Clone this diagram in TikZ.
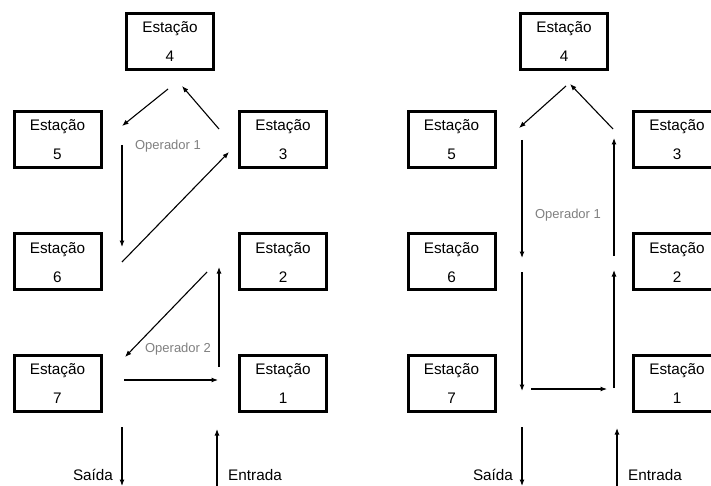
\documentclass[tikz,border=0pt]{standalone}
\usepackage{fontspec}
\setmainfont{Liberation Sans}
\usetikzlibrary{arrows.meta,calc}

\tikzset{
  stbox/.style={draw=black, line width=3pt, minimum width=87pt, minimum height=56pt, inner sep=0pt, fill=white},
  sttext/.style={anchor=base, inner sep=0pt, font=\fontsize{15.3}{18}\selectfont},
  flow/.style={line width=1.1pt, -{Latex[length=6.5pt,width=5pt]}},
  oplabel/.style={text=black!50, inner sep=0pt, font=\fontsize{13}{15}\selectfont},
  iolabel/.style={inner sep=0pt, font=\fontsize{15.3}{18}\selectfont},
}

% one station box: name, centre, number
\newcommand{\station}[3]{%
  \node[stbox] (#1) at (#2) {};
  \node[sttext] at ($(#1.north)+(0,21)$) {Estação};
  \node[sttext] at ($(#1.north)+(0,50)$) {#3};
}

\begin{document}
\begin{tikzpicture}[x=1pt, y=-1pt]
\useasboundingbox (0,0) rectangle (711,486);
\fill[white] (0,0) rectangle (711,486);
\clip (0,0) rectangle (711,486);

% ---------- left layout ----------
\station{Ls4}{170,41.5}{4}
\station{Ls5}{57.5,139.5}{5}
\station{Ls3}{283,139.5}{3}
\station{Ls6}{57.5,261.5}{6}
\station{Ls2}{283,261.5}{2}
\station{Ls7}{57.5,383}{7}
\station{Ls1}{283,383}{1}

\coordinate (La1s) at (168,89);   \coordinate (La1e) at (122,126);
\coordinate (La2s) at (219,129);  \coordinate (La2e) at (182,86);
\coordinate (La3s) at (122,145);  \coordinate (La3e) at (122,247);
\coordinate (La4s) at (122,262);  \coordinate (La4e) at (229,152);
\coordinate (La5s) at (207,272);  \coordinate (La5e) at (125,357);
\coordinate (La6s) at (219,367);  \coordinate (La6e) at (219,267);
\coordinate (La7s) at (124,380);  \coordinate (La7e) at (218,380);
\coordinate (La8s) at (122,427);  \coordinate (La8e) at (122,486);
\coordinate (La9s) at (217,487);  \coordinate (La9e) at (217,429);

\draw[flow] (La1s) -- (La1e);
\draw[flow] (La2s) -- (La2e);
\draw[flow] (La3s) -- (La3e);
\draw[flow] (La4s) -- (La4e);
\draw[flow] (La5s) -- (La5e);
\draw[flow] (La6s) -- (La6e);
\draw[flow] (La7s) -- (La7e);
\draw[flow] (La8s) -- (La8e);
\draw[flow] (La9s) -- (La9e);

\node[oplabel] (Lop1) at (168,146) {Operador 1};
\node[oplabel] (Lop2) at (178,349) {Operador 2};
\node[iolabel] (Lout) at (93,475) {Saída};
\node[iolabel] (Lin) at (255,475) {Entrada};

% ---------- right layout ----------
\station{Rs4}{564,41.5}{4}
\station{Rs5}{451.5,139.5}{5}
\station{Rs3}{677,139.5}{3}
\station{Rs6}{451.5,261.5}{6}
\station{Rs2}{677,261.5}{2}
\station{Rs7}{451.5,383}{7}
\station{Rs1}{677,383}{1}

\coordinate (Rb1s) at (566,86);   \coordinate (Rb1e) at (519,128);
\coordinate (Rb2s) at (613,129);  \coordinate (Rb2e) at (570,84);
\coordinate (Rb3s) at (522,140);  \coordinate (Rb3e) at (522,258);
\coordinate (Rb4s) at (614,256);  \coordinate (Rb4e) at (614,138);
\coordinate (Rb5s) at (522,272);  \coordinate (Rb5e) at (522,391);
\coordinate (Rb6s) at (531,389);  \coordinate (Rb6e) at (607,389);
\coordinate (Rb7s) at (614,388);  \coordinate (Rb7e) at (614,270);
\coordinate (Rb8s) at (522,427);  \coordinate (Rb8e) at (522,486);
\coordinate (Rb9s) at (617,487);  \coordinate (Rb9e) at (617,428);

\draw[flow] (Rb1s) -- (Rb1e);
\draw[flow] (Rb2s) -- (Rb2e);
\draw[flow] (Rb3s) -- (Rb3e);
\draw[flow] (Rb4s) -- (Rb4e);
\draw[flow] (Rb5s) -- (Rb5e);
\draw[flow] (Rb6s) -- (Rb6e);
\draw[flow] (Rb7s) -- (Rb7e);
\draw[flow] (Rb8s) -- (Rb8e);
\draw[flow] (Rb9s) -- (Rb9e);

\node[oplabel] (Rop1) at (568,215) {Operador 1};
\node[iolabel] (Rout) at (493,475) {Saída};
\node[iolabel] (Rin) at (655,475) {Entrada};
\end{tikzpicture}
\end{document}
